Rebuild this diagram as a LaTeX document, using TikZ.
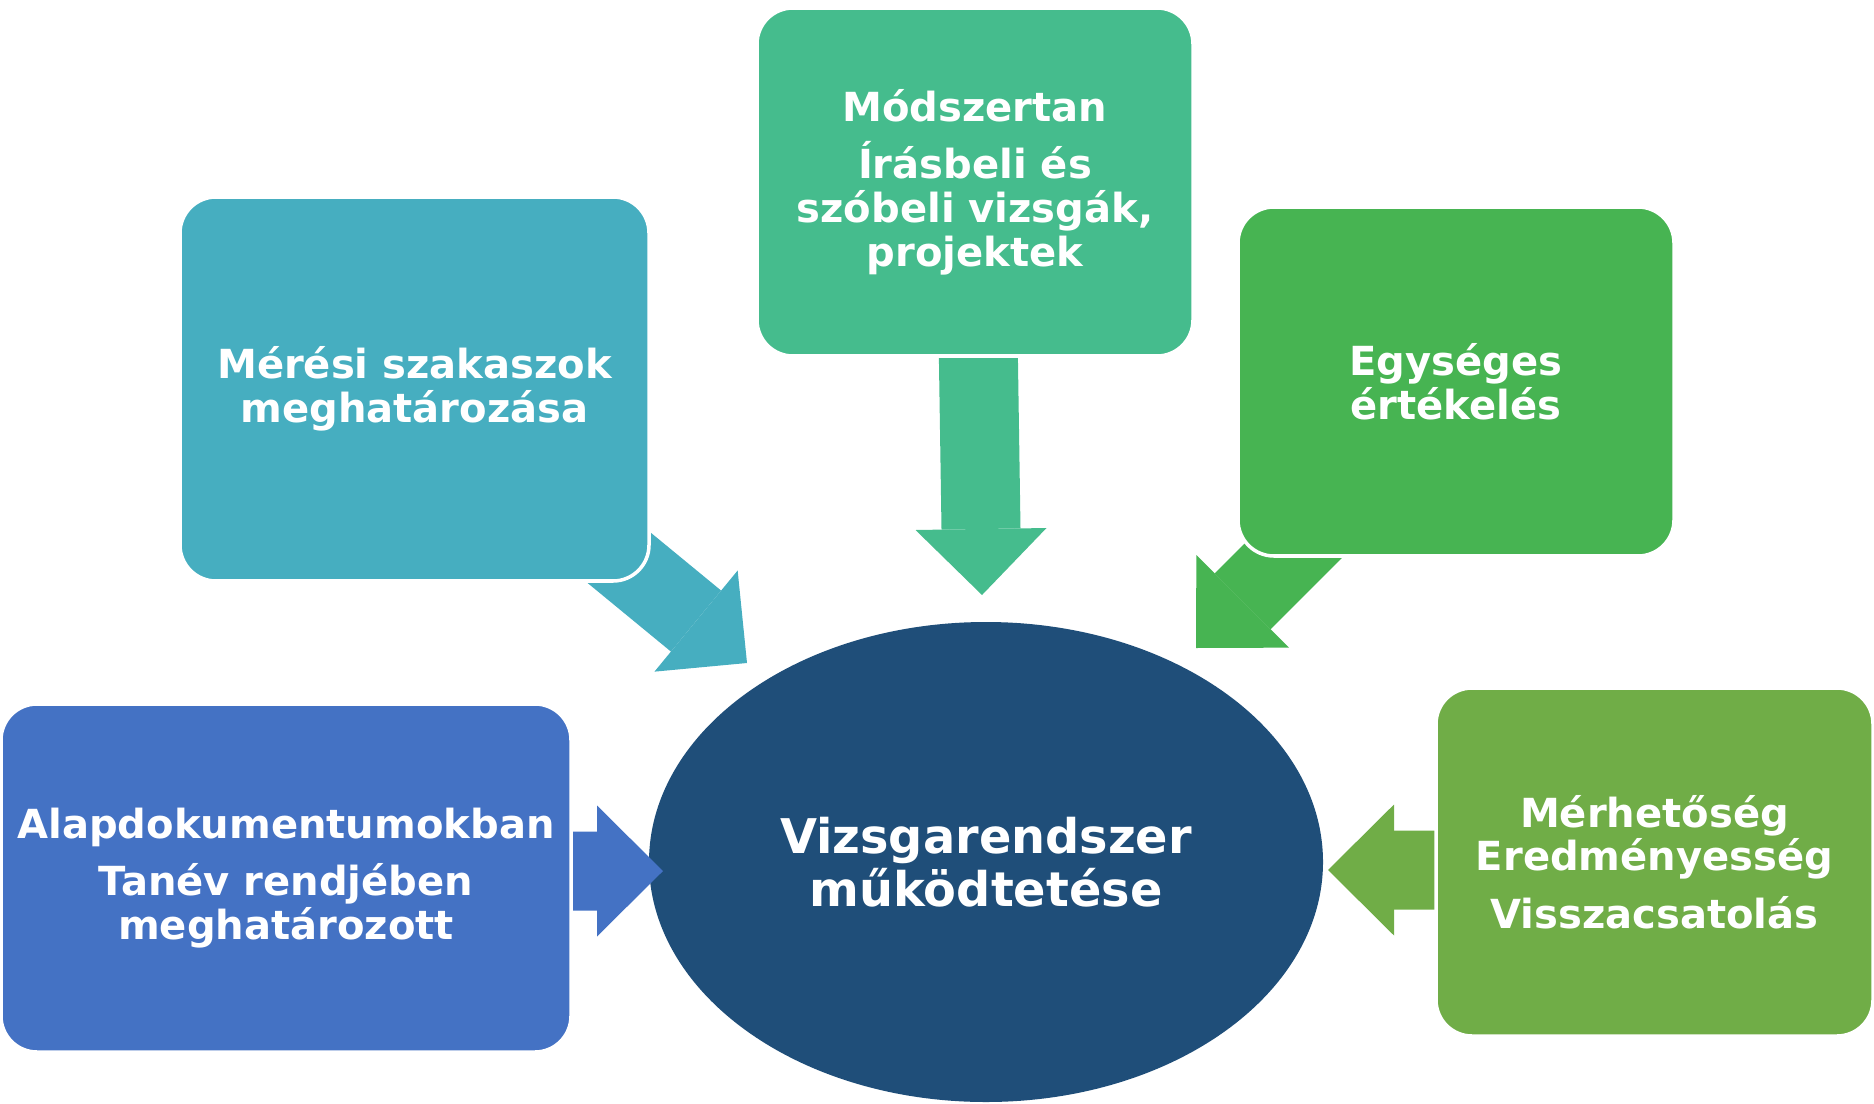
\documentclass[tikz,border=0pt]{standalone}
\usepackage{fontspec}
\setmainfont{DejaVu Sans}
\usetikzlibrary{arrows.meta, positioning, shapes.geometric, backgrounds, calc}

\definecolor{tealbox}{HTML}{46AEC0}
\definecolor{mintbox}{HTML}{45BC8D}
\definecolor{greenbox}{HTML}{47B452}
\definecolor{bluebox}{HTML}{4472C4}
\definecolor{olivebox}{HTML}{70AD47}
\definecolor{navyell}{HTML}{1F4E79}

\tikzset{
    stagebox/.style={draw=white, line width=1pt, rounded corners=0.36cm, minimum width=4.36cm, minimum height=3.48cm, text=white, font=\fontsize{11.4}{12.4}\selectfont\bfseries, align=center},
    blockarrow/.style={line width=0.79cm, -{Triangle[length=0.66cm, width=1.31cm, line width=0pt]}}
}

\begin{document}
\begin{tikzpicture}
        \useasboundingbox (0,0) rectangle (18.74,-11.03);

        % Upper boxes
        \node (meres) [stagebox, fill=tealbox, minimum width=4.69cm, minimum height=3.84cm] at (4.145,-3.89) {Mérési szakaszok\\ meghatározása};
        \node (modszer) [stagebox, fill=mintbox] at (9.75,-1.82) {Módszertan\\[4pt] Írásbeli és\\ szóbeli vizsgák,\\ projektek};
        \node (egyseg) [stagebox, fill=greenbox, minimum height=3.49cm] at (14.56,-3.815) {Egységes\\ értékelés};

        % Lower boxes
        \node (alap) [stagebox, fill=bluebox, minimum width=5.70cm] at (2.86,-8.78) {Alapdokumentumokban\\[4pt] Tanév rendjében\\ meghatározott};
        \node (merheto) [stagebox, fill=olivebox, minimum width=4.37cm] at (16.545,-8.62) {Mérhetőség\\ Eredményesség\\[4pt] Visszacsatolás};

        % Arrow tips
        \coordinate (tipmodszer) at (9.82,-5.95);
        \coordinate (tipmeres) at (7.47,-6.63);
        \coordinate (tipegyseg) at (11.96,-6.48);
        \coordinate (tipalap) at (6.63,-8.71);
        \coordinate (tipmerheto) at (13.28,-8.70);

        \begin{scope}[on background layer]
            % Central ellipse
            \node (core) [ellipse, fill=navyell, minimum width=6.74cm, minimum height=4.80cm, inner sep=0pt, text=white, font=\fontsize{13.6}{15}\selectfont\bfseries, align=center] at (9.86,-8.62) {Vizsgarendszer\\ működtetése};

            % Arrows
            \draw[blockarrow, draw=mintbox] ($(modszer.south)+(0.03,0.26)$) -- (tipmodszer);
            \draw[blockarrow, draw=tealbox] ($(meres.south east)+(-0.56,0.45)$) -- (tipmeres);
            \draw[blockarrow, draw=greenbox] ($(egyseg.south west)+(0.99,0.49)$) -- (tipegyseg);
            \draw[blockarrow, draw=bluebox] ($(alap.east)+(-0.31,0.07)$) -- (tipalap);
            \draw[blockarrow, draw=olivebox] ($(merheto.west)+(0.30,-0.08)$) -- (tipmerheto);
        \end{scope}
    \end{tikzpicture}
\end{document}
